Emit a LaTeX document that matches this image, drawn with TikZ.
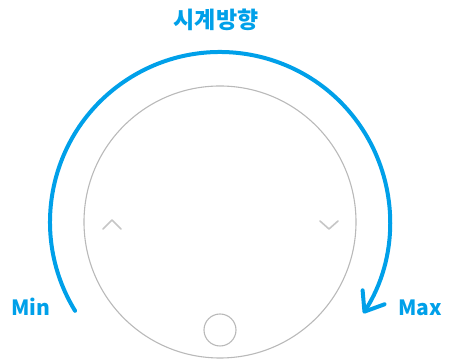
\documentclass[tikz,border=0pt]{standalone}
\usepackage{fontspec}
\newfontfamily\krfont{Noto Sans CJK KR}
\usetikzlibrary{arrows.meta}
\definecolor{dialblue}{RGB}{0,160,233}

\begin{document}
\begin{tikzpicture}[x=1pt, y=1pt, line cap=round,
    every node/.style={font=\krfont\bfseries, text=dialblue, inner sep=0pt},
    knob/.style={gray!55, line width=1.1pt},
    chevron/.style={gray!45, line width=1.6pt, line join=round}]
  \useasboundingbox (0,0) rectangle (453,363);
  \coordinate (c) at (220,141);
  % knob body and button
  \draw[knob] (c) circle (136);
  \draw[knob] (220,33) circle (16);
  % chevrons
  \draw[chevron] (103,134) -- (112,143) -- (121,134);
  \draw[chevron] (320,142) -- (329,134) -- (338,142);
  % direction of rotation
  \draw[dialblue, line width=4pt, -{Straight Barb[length=17pt, width=26pt, round]}]
    ([shift=(211.5:170)]c) arc[start angle=211.5, end angle=-32.5, radius=170];
  % labels
  \node[font=\krfont\bfseries\fontsize{23}{27}\selectfont] (title) at (216,343) {시계방향};
  \node[anchor=base, font=\krfont\bfseries\fontsize{21}{25}\selectfont] (min) at (30.5,47) {Min};
  \node[anchor=base, font=\krfont\bfseries\fontsize{21}{25}\selectfont] (max) at (420,47) {Max};
\end{tikzpicture}
\end{document}
